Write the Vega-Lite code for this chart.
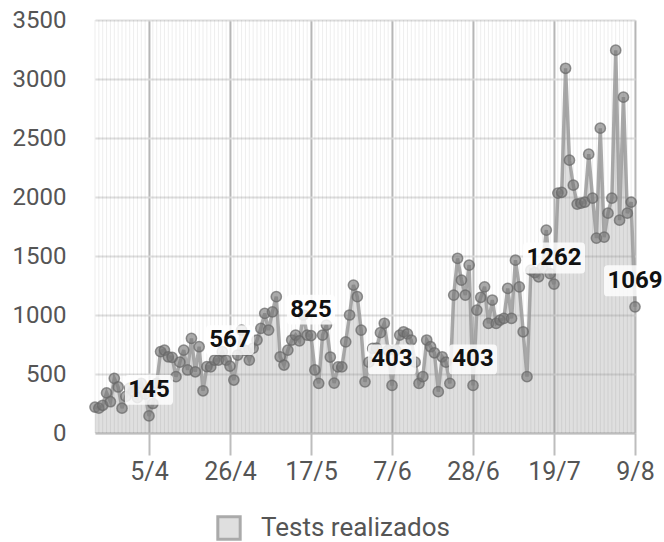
{
  "$schema": "https://vega.github.io/schema/vega-lite/v6.json",
  "width": 540,
  "height": 413,
  "autosize": {"type": "none"},
  "padding": {"left": 95, "top": 20, "right": 29, "bottom": 109},
  "background": "white",
  "config": {"view": {"stroke": null}, "font": "Roboto"},
  "data": {"values": [
    {"date": "2020-03-22", "tests": 220}, {"date": "2020-03-23", "tests": 210}, {"date": "2020-03-24", "tests": 235}, {"date": "2020-03-25", "tests": 340}, {"date": "2020-03-26", "tests": 265}, {"date": "2020-03-27", "tests": 463}, {"date": "2020-03-28", "tests": 390}, {"date": "2020-03-29", "tests": 210}, {"date": "2020-03-30", "tests": 310}, {"date": "2020-03-31", "tests": 380},
    {"date": "2020-04-01", "tests": 350}, {"date": "2020-04-02", "tests": 300}, {"date": "2020-04-03", "tests": 420}, {"date": "2020-04-04", "tests": 330}, {"date": "2020-04-05", "tests": 145}, {"date": "2020-04-06", "tests": 250}, {"date": "2020-04-07", "tests": 420}, {"date": "2020-04-08", "tests": 690}, {"date": "2020-04-09", "tests": 703}, {"date": "2020-04-10", "tests": 646},
    {"date": "2020-04-11", "tests": 641}, {"date": "2020-04-12", "tests": 477}, {"date": "2020-04-13", "tests": 600}, {"date": "2020-04-14", "tests": 703}, {"date": "2020-04-15", "tests": 534}, {"date": "2020-04-16", "tests": 802}, {"date": "2020-04-17", "tests": 519}, {"date": "2020-04-18", "tests": 731}, {"date": "2020-04-19", "tests": 358}, {"date": "2020-04-20", "tests": 562},
    {"date": "2020-04-21", "tests": 560}, {"date": "2020-04-22", "tests": 618}, {"date": "2020-04-23", "tests": 618}, {"date": "2020-04-24", "tests": 689}, {"date": "2020-04-25", "tests": 618}, {"date": "2020-04-26", "tests": 567}, {"date": "2020-04-27", "tests": 449}, {"date": "2020-04-28", "tests": 661}, {"date": "2020-04-29", "tests": 872}, {"date": "2020-04-30", "tests": 700},
    {"date": "2020-05-01", "tests": 618}, {"date": "2020-05-02", "tests": 720}, {"date": "2020-05-03", "tests": 788}, {"date": "2020-05-04", "tests": 887}, {"date": "2020-05-05", "tests": 1014}, {"date": "2020-05-06", "tests": 872}, {"date": "2020-05-07", "tests": 1027}, {"date": "2020-05-08", "tests": 1155}, {"date": "2020-05-09", "tests": 646}, {"date": "2020-05-10", "tests": 576},
    {"date": "2020-05-11", "tests": 703}, {"date": "2020-05-12", "tests": 788}, {"date": "2020-05-13", "tests": 830}, {"date": "2020-05-14", "tests": 780}, {"date": "2020-05-15", "tests": 1000}, {"date": "2020-05-16", "tests": 830}, {"date": "2020-05-17", "tests": 825}, {"date": "2020-05-18", "tests": 534}, {"date": "2020-05-19", "tests": 421}, {"date": "2020-05-20", "tests": 830},
    {"date": "2020-05-21", "tests": 915}, {"date": "2020-05-22", "tests": 644}, {"date": "2020-05-23", "tests": 423}, {"date": "2020-05-24", "tests": 560}, {"date": "2020-05-25", "tests": 560}, {"date": "2020-05-26", "tests": 773}, {"date": "2020-05-27", "tests": 1000}, {"date": "2020-05-28", "tests": 1254}, {"date": "2020-05-29", "tests": 1155}, {"date": "2020-05-30", "tests": 872},
    {"date": "2020-05-31", "tests": 434}, {"date": "2020-06-01", "tests": 600}, {"date": "2020-06-02", "tests": 717}, {"date": "2020-06-03", "tests": 720}, {"date": "2020-06-04", "tests": 850}, {"date": "2020-06-05", "tests": 930}, {"date": "2020-06-06", "tests": 700}, {"date": "2020-06-07", "tests": 403}, {"date": "2020-06-08", "tests": 700}, {"date": "2020-06-09", "tests": 830},
    {"date": "2020-06-10", "tests": 858}, {"date": "2020-06-11", "tests": 840}, {"date": "2020-06-12", "tests": 788}, {"date": "2020-06-13", "tests": 600}, {"date": "2020-06-14", "tests": 421}, {"date": "2020-06-15", "tests": 477}, {"date": "2020-06-16", "tests": 788}, {"date": "2020-06-17", "tests": 731}, {"date": "2020-06-18", "tests": 680}, {"date": "2020-06-19", "tests": 350},
    {"date": "2020-06-20", "tests": 646}, {"date": "2020-06-21", "tests": 600}, {"date": "2020-06-22", "tests": 421}, {"date": "2020-06-23", "tests": 1169}, {"date": "2020-06-24", "tests": 1480}, {"date": "2020-06-25", "tests": 1296}, {"date": "2020-06-26", "tests": 1169}, {"date": "2020-06-27", "tests": 1423}, {"date": "2020-06-28", "tests": 403}, {"date": "2020-06-29", "tests": 1042},
    {"date": "2020-06-30", "tests": 1150}, {"date": "2020-07-01", "tests": 1239}, {"date": "2020-07-02", "tests": 929}, {"date": "2020-07-03", "tests": 1127}, {"date": "2020-07-04", "tests": 929}, {"date": "2020-07-05", "tests": 957}, {"date": "2020-07-06", "tests": 971}, {"date": "2020-07-07", "tests": 1225}, {"date": "2020-07-08", "tests": 971}, {"date": "2020-07-09", "tests": 1465},
    {"date": "2020-07-10", "tests": 1239}, {"date": "2020-07-11", "tests": 858}, {"date": "2020-07-12", "tests": 477}, {"date": "2020-07-13", "tests": 1380}, {"date": "2020-07-14", "tests": 1360}, {"date": "2020-07-15", "tests": 1324}, {"date": "2020-07-16", "tests": 1400}, {"date": "2020-07-17", "tests": 1720}, {"date": "2020-07-18", "tests": 1350}, {"date": "2020-07-19", "tests": 1262},
    {"date": "2020-07-20", "tests": 2033}, {"date": "2020-07-21", "tests": 2040}, {"date": "2020-07-22", "tests": 3091}, {"date": "2020-07-23", "tests": 2312}, {"date": "2020-07-24", "tests": 2100}, {"date": "2020-07-25", "tests": 1940}, {"date": "2020-07-26", "tests": 1948}, {"date": "2020-07-27", "tests": 1957}, {"date": "2020-07-28", "tests": 2363}, {"date": "2020-07-29", "tests": 1990},
    {"date": "2020-07-30", "tests": 1652}, {"date": "2020-07-31", "tests": 2583}, {"date": "2020-08-01", "tests": 1660}, {"date": "2020-08-02", "tests": 1863}, {"date": "2020-08-03", "tests": 1990}, {"date": "2020-08-04", "tests": 3244}, {"date": "2020-08-05", "tests": 1804}, {"date": "2020-08-06", "tests": 2846}, {"date": "2020-08-07", "tests": 1863}, {"date": "2020-08-08", "tests": 1957},
    {"date": "2020-08-09", "tests": 1069}
  ]},
  "encoding": {
    "x": {
      "field": "date", "type": "temporal",
      "scale": {"type": "utc", "domain": [{"year": 2020, "month": 3, "date": 22, "utc": true}, {"year": 2020, "month": 8, "date": 9, "utc": true}]},
      "axis": {
        "values": [
          {"year": 2020, "month": 4, "date": 5, "utc": true},
          {"year": 2020, "month": 4, "date": 26, "utc": true},
          {"year": 2020, "month": 5, "date": 17, "utc": true},
          {"year": 2020, "month": 6, "date": 7, "utc": true},
          {"year": 2020, "month": 6, "date": 28, "utc": true},
          {"year": 2020, "month": 7, "date": 19, "utc": true},
          {"year": 2020, "month": 8, "date": 9, "utc": true}
        ],
        "format": "%-d/%-m",
        "title": null,
        "grid": true, "gridColor": "#bdbdbd", "gridWidth": 2,
        "domainColor": "#bdbdbd", "domainWidth": 2,
        "tickColor": "#bdbdbd", "tickWidth": 2, "tickSize": 22,
        "labelPadding": 4, "labelFontSize": 25, "labelColor": "#555555", "labelFont": "Roboto",
        "labelFlush": false, "labelOverlap": false
      }
    }
  },
  "layer": [
    {
      "mark": {"type": "area", "interpolate": "linear"},
      "encoding": {
        "y": {
          "field": "tests", "type": "quantitative",
          "scale": {"domain": [0, 3500], "nice": false},
          "axis": {
            "values": [0, 500, 1000, 1500, 2000, 2500, 3000, 3500],
            "format": "d",
            "title": null, "domain": false, "ticks": false, "tickSize": 0,
            "grid": true, "gridColor": "#dedede", "gridWidth": 2,
            "labelPadding": 29, "labelFontSize": 24, "labelColor": "#555555", "labelFont": "Roboto"
          }
        },
        "color": {
          "datum": "Tests realizados",
          "scale": {"range": ["rgba(150,150,150,0.3)"]},
          "legend": {
            "title": null, "orient": "none", "legendX": 121, "legendY": 495, "padding": 0,
            "symbolType": "square", "symbolSize": 500, "symbolStrokeColor": "#aaaaaa", "symbolStrokeWidth": 3,
            "labelFontSize": 26, "labelColor": "#555555", "labelFont": "Roboto", "labelOffset": 19, "labelLimit": 400
          }
        }
      }
    },
    {
      "mark": {"type": "rule", "color": "#000000", "opacity": 0.07, "strokeWidth": 1},
      "encoding": {"x": {"field": "date", "type": "temporal"}}
    },
    {
      "mark": {"type": "line", "color": "#9a9a9a", "strokeWidth": 3.5, "opacity": 0.85},
      "encoding": {"y": {"field": "tests", "type": "quantitative"}}
    },
    {
      "mark": {"type": "point", "filled": true, "size": 105, "fill": "#777777", "fillOpacity": 0.62, "stroke": "#666666", "strokeWidth": 1.5, "strokeOpacity": 0.7},
      "encoding": {"y": {"field": "tests", "type": "quantitative"}}
    },
    {
      "transform": [
        {"filter": "indexof(['2020-04-05', '2020-04-26', '2020-05-17', '2020-06-07', '2020-06-28', '2020-07-19', '2020-08-09'], utcFormat(toDate(datum.date), '%Y-%m-%d')) >= 0"},
        {"filter": "datum.tests < 1000"}
      ],
      "mark": {"type": "point", "shape": "M-0.85,-0.62H0.85Q1,-0.62 1,-0.47V0.47Q1,0.62 0.85,0.62H-0.85Q-1,0.62 -1,0.47V-0.47Q-1,-0.62 -0.85,-0.62Z", "size": 2304, "filled": true, "color": "#ffffff", "opacity": 0.82, "yOffset": -26},
      "encoding": {"y": {"field": "tests", "type": "quantitative"}}
    },
    {
      "transform": [
        {"filter": "indexof(['2020-04-05', '2020-04-26', '2020-05-17', '2020-06-07', '2020-06-28', '2020-07-19', '2020-08-09'], utcFormat(toDate(datum.date), '%Y-%m-%d')) >= 0"},
        {"filter": "datum.tests >= 1000"}
      ],
      "mark": {"type": "point", "shape": "M-0.88,-0.5H0.88Q1,-0.5 1,-0.38V0.38Q1,0.5 0.88,0.5H-0.88Q-1,0.5 -1,0.38V-0.38Q-1,-0.5 -0.88,-0.5Z", "size": 3844, "filled": true, "color": "#ffffff", "opacity": 0.82, "yOffset": -26},
      "encoding": {"y": {"field": "tests", "type": "quantitative"}}
    },
    {
      "transform": [
        {"filter": "indexof(['2020-04-05', '2020-04-26', '2020-05-17', '2020-06-07', '2020-06-28', '2020-07-19', '2020-08-09'], utcFormat(toDate(datum.date), '%Y-%m-%d')) >= 0"}
      ],
      "mark": {"type": "text", "fontSize": 24, "fontWeight": "bold", "font": "Roboto", "color": "#111111", "baseline": "alphabetic", "align": "center", "dy": -19},
      "encoding": {
        "y": {"field": "tests", "type": "quantitative"},
        "text": {"field": "tests", "type": "quantitative", "format": "d"}
      }
    }
  ]
}
